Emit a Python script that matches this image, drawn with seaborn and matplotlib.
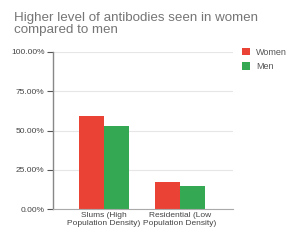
import matplotlib
matplotlib.use("Agg")
import matplotlib.pyplot as plt
import seaborn as sns
import pandas as pd
from matplotlib.ticker import FuncFormatter
from matplotlib.patches import Patch

categories = ["Slums (High\nPopulation Density)", "Residential (Low\nPopulation Density)"]
women = [59.2, 17.0]
men = [53.1, 14.9]
series = ["Women", "Men"]
yticks = [0, 25, 50, 75, 100]

df = pd.DataFrame({
    "cat": categories * 2,
    "val": women + men,
    "sex": ["Women"] * 2 + ["Men"] * 2,
})

sns.set_theme(style="white")
plt.rcParams['font.family'] = ['Liberation Sans', 'DejaVu Sans']

fig = plt.figure(figsize=(3, 2.4), dpi=100)
ax = fig.add_axes([53/300, 1 - 209/240, 180/300, 157/240])

palette = {"Women": "#EA4335", "Men": "#34A853"}
sns.barplot(data=df, x="cat", y="val", hue="sex", hue_order=series,
            palette=palette, width=0.66, ax=ax, legend=False, saturation=1,
            linewidth=0, gap=0)

ax.set_xlim(-0.67, 1.70)
ax.set_ylim(0, 100)
ax.set_yticks(yticks)
ax.yaxis.set_major_formatter(FuncFormatter(lambda v, p: f"{v:.2f}%"))
ax.grid(axis="y", color="#e6e6e6", linewidth=0.8)
ax.set_axisbelow(True)
ax.set_xlabel("")
ax.set_ylabel("")
for s in ["top", "right"]:
    ax.spines[s].set_visible(False)
ax.spines["left"].set_color("#888888")
ax.spines["left"].set_linewidth(1.0)
ax.spines["bottom"].set_color("#aaaaaa")
ax.spines["bottom"].set_linewidth(0.8)
ax.tick_params(axis="y", length=4, width=0.8, color="#555555", labelsize=6, labelcolor="#444444", pad=2, left=True)
ax.tick_params(axis="x", length=0, labelsize=6, labelcolor="#444444", pad=2)

handles = [Patch(facecolor=palette[s], edgecolor="none") for s in series]
leg = fig.legend(handles, series, loc="upper left", bbox_to_anchor=(238/300, 1 - 44/240),
                 frameon=False, fontsize=6.5, handlelength=0.9, handleheight=0.9,
                 handletextpad=0.7, labelspacing=0.6, borderaxespad=0)
for t in leg.get_texts():
    t.set_color("#555555")

fig.text(14/300, 1 - 12/240, "Higher level of antibodies seen in women\ncompared to men",
         ha="left", va="top", fontsize=9.6, color="#757575", linespacing=1.0)

fig.savefig("out.png", dpi=100, facecolor="white")
